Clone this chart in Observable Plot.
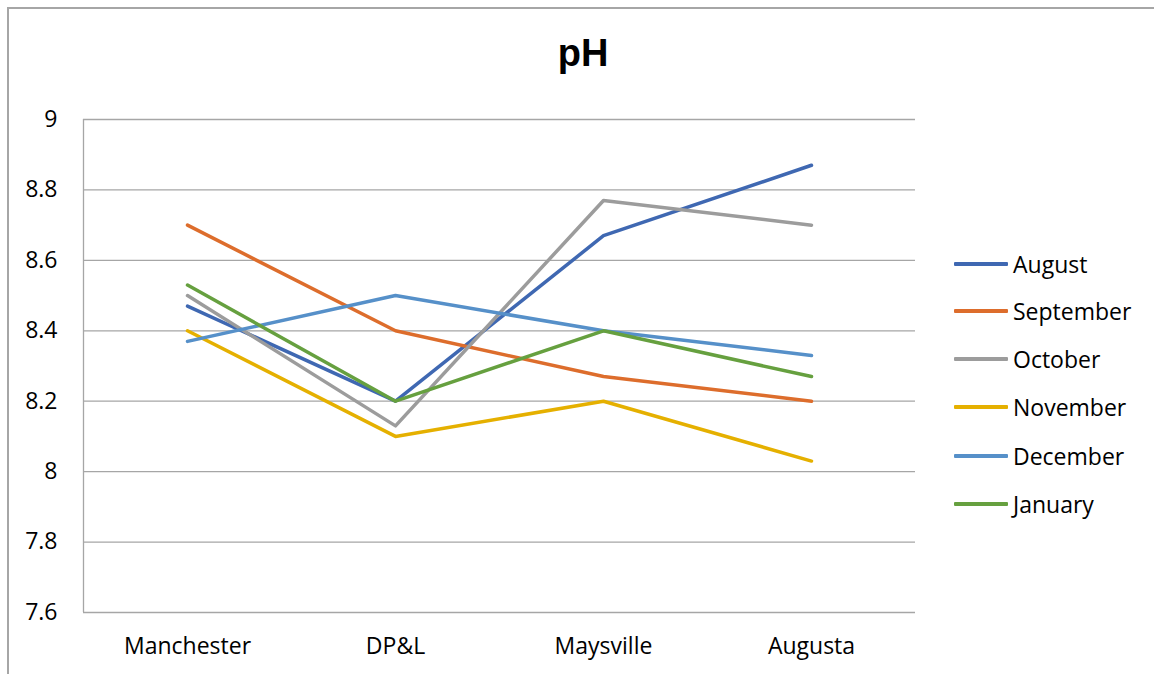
<!DOCTYPE html>
<html>
<head>
<meta charset="utf-8">
<script src="https://cdn.jsdelivr.net/npm/d3@7"></script>
<script src="https://cdn.jsdelivr.net/npm/@observablehq/plot@0.6"></script>
<style>
  html, body { margin: 0; padding: 0; background: #fff; }
  #wrap { position: relative; width: 1154px; height: 674px; overflow: hidden; font-family: "Open Sans", sans-serif; }
  #border { position: absolute; left: 7px; top: 7px; width: 1160px; height: 700px; border: 2px solid #a6a6a6; box-sizing: border-box; }
  #title { position: absolute; left: 0; width: 1166px; top: 32px; text-align: center; font: bold 38px "Liberation Sans", Arial, sans-serif; color: #000; }
  #chart { position: absolute; left: 0; top: 0; }
  #legend { position: absolute; left: 954px; top: 0; }
  .item { position: absolute; left: 0; display: flex; align-items: center; white-space: nowrap; font-size: 23px; color: #000; }
  .sw { width: 54px; height: 3.5px; margin-right: 5px; border-radius: 1px; }
</style>
</head>
<body>
<div id="wrap">
  <div id="border"></div>
  <div id="title">pH</div>
  <div id="chart"></div>
  <div id="legend"></div>
</div>
<script>
const sites = ["Manchester", "DP&L", "Maysville", "Augusta"];
const months = ["August", "September", "October", "November", "December", "January"];
const colors = ["#3F68B2", "#DD6D2C", "#9C9C9C", "#E5B000", "#5690C9", "#66A03F"];
const august    = [8.47, 8.20, 8.67, 8.87];
const september = [8.70, 8.40, 8.27, 8.20];
const october   = [8.50, 8.13, 8.77, 8.70];
const november  = [8.40, 8.10, 8.20, 8.03];
const december  = [8.37, 8.50, 8.40, 8.33];
const january   = [8.53, 8.20, 8.40, 8.27];
const yTicks = [7.6, 7.8, 8, 8.2, 8.4, 8.6, 8.8, 9];

const series = [august, september, october, november, december, january];
const data = [];
series.forEach((vals, m) => vals.forEach((v, i) => data.push({month: months[m], pos: i + 0.5, site: sites[i], value: v})));

const plot = Plot.plot({
  width: 1154,
  height: 674,
  marginLeft: 83,
  marginRight: 239,
  marginTop: 119,
  marginBottom: 62,
  style: {fontFamily: "Open Sans, sans-serif", fontSize: "23px", color: "#000", background: "transparent", overflow: "visible"},
  x: {domain: [0, sites.length], axis: null},
  y: {domain: [7.6, 9], axis: null},
  color: {domain: months, range: colors},
  marks: [
    Plot.ruleY(yTicks, {stroke: "#a6a6a6", strokeWidth: 1.3, strokeOpacity: 1}),
    Plot.ruleX([0], {stroke: "#a6a6a6", strokeWidth: 1.3, strokeOpacity: 1}),
    Plot.text(yTicks, {x: 0, y: d => d, text: d => String(d), textAnchor: "end", dx: -26, fontSize: 23, fill: "#000"}),
    Plot.text(sites.map((s, i) => ({s, p: i + 0.5})), {x: "p", y: 7.6, text: "s", dy: 34, fontSize: 23, fill: "#000"}),
    Plot.line(data, {x: "pos", y: "value", z: "month", stroke: "month", strokeWidth: 3.5, strokeLinejoin: "round", strokeLinecap: "round"})
  ]
});
document.getElementById("chart").appendChild(plot);

const legend = document.getElementById("legend");
const rowY = [264, 311, 359, 407, 456, 504];
months.forEach((m, i) => {
  const it = document.createElement("div");
  it.className = "item";
  it.style.top = (rowY[i] - 15) + "px";
  it.style.height = "30px";
  it.innerHTML = `<div class="sw" style="background:${colors[i]}"></div><span>${m}</span>`;
  legend.appendChild(it);
});
</script>
</body>
</html>
